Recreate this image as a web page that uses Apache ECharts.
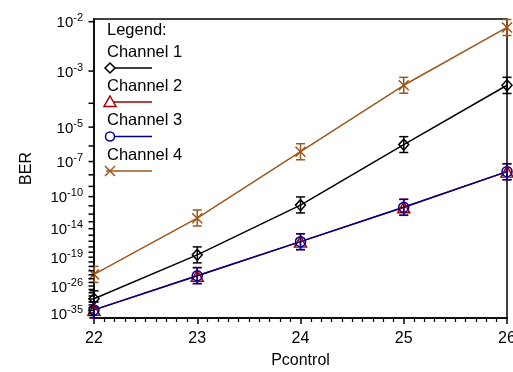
<!DOCTYPE html>
<html>
<head>
<meta charset="utf-8">
<script src="https://cdn.jsdelivr.net/npm/echarts@6/dist/echarts.min.js"></script>
<style>html,body{margin:0;padding:0;background:#fff}#c{width:513px;height:372px}</style>
</head>
<body>
<div id="c"></div>
<script>
// ---- data (BER) ----
const pcontrol = [22, 23, 24, 25, 26];
const ch1BER = [1.2e-30, 3e-19, 1.2e-11, 1.2e-6, 4.0e-4];
const ch1Hi  = [3.9e-28, 1.0e-17, 9.3e-11, 3.3e-6, 6.8e-4];
const ch1Lo  = [2.0e-33, 6.3e-21, 1.4e-12, 4.0e-7, 2.2e-4];
const ch2BER = [1.5e-34, 6e-24, 8.5e-17, 6.7e-12, 1.8e-8];
const ch2Hi  = [1.1e-31, 5.4e-22, 1.7e-15, 5.2e-11, 7.0e-8];
const ch2Lo  = [1.2e-37, 4.8e-26, 3.1e-18, 7.1e-13, 3.9e-9];
const ch3BER = [1.5e-34, 6e-24, 8.5e-17, 6.7e-12, 1.8e-8];
const ch3Hi  = [1.1e-31, 5.4e-22, 1.7e-15, 5.2e-11, 7.0e-8];
const ch3Lo  = [1.2e-37, 4.8e-26, 3.1e-18, 7.1e-13, 3.9e-9];
const ch4BER = [1.3e-23, 3e-13, 4.5e-7, 4.0e-4, 8.1e-3];
const ch4Hi  = [1.05e-21, 3.2e-12, 1.35e-6, 6.8e-4, 1.08e-2];
const ch4Lo  = [1.05e-25, 2.5e-14, 1.33e-7, 2.24e-4, 5.9e-3];
const yLabelExponents = [-2, -3, -5, -7, -10, -14, -19, -26, -35];
const yTickExponentRange = [-2, -36];
const yAxisTopBER = 1.1e-2, yAxisBottomBER = 1e-37;
const colors = {c1: '#000000', c2: '#A00000', c3: '#000090', c4: '#A0561A'};

// ---- BER probability scale: position = log10(Q), BER = 0.5*erfc(Q/sqrt2) ----
function lnErfc(x) {
  const z = Math.abs(x), t = 1 / (1 + 0.5 * z);
  const p = -z * z - 1.26551223 + t * (1.00002368 + t * (0.37409196 + t * (0.09678418 + t * (-0.18628806 + t * (0.27886807 + t * (-1.13520398 + t * (1.48851587 + t * (-0.82215223 + t * 0.17087277))))))));
  return Math.log(t) + p;
}
function lnBER(q) { return Math.log(0.5) + lnErfc(q / Math.SQRT2); }
function invQ(ber) {
  const target = Math.log(ber);
  let lo = 0, hi = 50;
  for (let i = 0; i < 100; i++) { const m = (lo + hi) / 2; if (lnBER(m) > target) lo = m; else hi = m; }
  return (lo + hi) / 2;
}
function tv(ber) { return Math.log10(invQ(ber)); }

const labelVals = yLabelExponents.map(e => tv(Math.pow(10, e)));
const tickVals = [];
for (let e = yTickExponentRange[0]; e >= yTickExponentRange[1]; e--) tickVals.push(tv(Math.pow(10, e)));

function lineData(b) { return pcontrol.map((x, i) => [x, tv(b[i])]); }
function errData(hi, lo) { return pcontrol.map((x, i) => [x, tv(hi[i]), tv(lo[i])]); }

function errSeries(name, hi, lo, color) {
  return {
    name: name, type: 'custom', clip: false, data: errData(hi, lo),
    renderItem: function (params, api) {
      const x = api.value(0);
      const p1 = api.coord([x, api.value(1)]);
      const p2 = api.coord([x, api.value(2)]);
      const w = 4.5, st = {stroke: color, lineWidth: 1.5};
      return {type: 'group', children: [
        {type: 'line', shape: {x1: p1[0], y1: p1[1], x2: p2[0], y2: p2[1]}, style: st},
        {type: 'line', shape: {x1: p1[0] - w, y1: p1[1], x2: p1[0] + w, y2: p1[1]}, style: st},
        {type: 'line', shape: {x1: p2[0] - w, y1: p2[1], x2: p2[0] + w, y2: p2[1]}, style: st}
      ]};
    }
  };
}
function lineSeries(name, b, color, symbol, size, fill) {
  return {
    name: name, type: 'line', data: lineData(b), symbol: symbol, symbolSize: size,
    showAllSymbol: true, clip: false,
    lineStyle: {color: color, width: 1.5},
    itemStyle: {color: fill, borderColor: color, borderWidth: 1.5}
  };
}

const FONT = 'Liberation Sans, Arial, sans-serif';
const chart = echarts.init(document.getElementById('c'));

const legendItems = [
  {name: 'Channel 1', color: colors.c1, ty: 53, ly: 68},
  {name: 'Channel 2', color: colors.c2, ty: 87, ly: 102},
  {name: 'Channel 3', color: colors.c3, ty: 121, ly: 136.5},
  {name: 'Channel 4', color: colors.c4, ty: 156, ly: 171}
];
const graphics = [{type: 'text', left: 107, top: 22, style: {text: 'Legend:', font: '16.5px ' + FONT, fill: '#000'}}];
legendItems.forEach((it, i) => {
  graphics.push({type: 'text', left: 107, top: it.ty - 9, style: {text: it.name, font: '16.5px ' + FONT, fill: '#000'}});
  graphics.push({type: 'line', shape: {x1: 106, y1: it.ly, x2: 152, y2: it.ly}, style: {stroke: it.color, lineWidth: 1.5}});
  const cx = 110, cy = it.ly;
  let shp;
  if (i === 0) shp = {type: 'polygon', shape: {points: [[cx, cy - 5], [cx + 5, cy], [cx, cy + 5], [cx - 5, cy]]}, style: {fill: '#fff', stroke: it.color, lineWidth: 1.5}};
  else if (i === 1) shp = {type: 'polygon', shape: {points: [[cx, cy - 6], [cx + 6, cy + 4.5], [cx - 6, cy + 4.5]]}, style: {fill: '#fff', stroke: it.color, lineWidth: 1.5}};
  else if (i === 2) shp = {type: 'circle', shape: {cx: cx, cy: cy, r: 4.5}, style: {fill: '#fff', stroke: it.color, lineWidth: 1.5}};
  else shp = {type: 'group', children: [
    {type: 'line', shape: {x1: cx - 5, y1: cy - 5, x2: cx + 5, y2: cy + 5}, style: {stroke: it.color, lineWidth: 1.5}},
    {type: 'line', shape: {x1: cx - 5, y1: cy + 5, x2: cx + 5, y2: cy - 5}, style: {stroke: it.color, lineWidth: 1.5}}
  ]};
  graphics.push(shp);
});

chart.setOption({
  animation: false,
  backgroundColor: '#fff',
  textStyle: {fontFamily: FONT},
  grid: {left: 94, right: 6, top: 19, bottom: 54, outerBoundsMode: 'none', containLabel: false,
         show: true, borderColor: '#000', borderWidth: 1.5, backgroundColor: 'transparent'},
  xAxis: {
    type: 'value', min: 22, max: 26, interval: 1,
    name: 'Pcontrol', nameLocation: 'middle', nameGap: 35,
    nameTextStyle: {fontSize: 16, color: '#000', fontFamily: FONT},
    axisLine: {lineStyle: {color: '#000', width: 1.5}},
    axisTick: {inside: false, length: 6, lineStyle: {color: '#000', width: 1.5}},
    minorTick: {show: true, splitNumber: 10, length: 4, lineStyle: {color: '#000', width: 1.2}},
    axisLabel: {fontSize: 16, color: '#000', margin: 13, fontFamily: FONT},
    splitLine: {show: false}
  },
  yAxis: {
    type: 'value', inverse: true, min: tv(yAxisTopBER), max: tv(yAxisBottomBER),
    name: 'BER', nameLocation: 'middle', nameGap: 59, nameRotate: 90,
    nameTextStyle: {fontSize: 16, color: '#000', fontFamily: FONT},
    axisLine: {show: true, lineStyle: {color: '#000', width: 1.5}},
    axisTick: {show: false},
    axisLabel: {
      customValues: labelVals, margin: 11, color: '#000',
      formatter: function (v) {
        let bi = 0, bd = Infinity;
        labelVals.forEach((lv, i) => { const d = Math.abs(lv - v); if (d < bd) { bd = d; bi = i; } });
        return '{b|10}{s|' + yLabelExponents[bi] + '}';
      },
      rich: {
        b: {fontSize: 15, fontFamily: FONT, color: '#000', verticalAlign: 'bottom'},
        s: {fontSize: 11, fontFamily: FONT, color: '#000', verticalAlign: 'top', padding: [0, 0, 7, 0]}
      }
    },
    splitLine: {show: false}
  },
  graphic: graphics,
  series: [
    errSeries('e4', ch4Hi, ch4Lo, colors.c4),
    lineSeries('Channel 4', ch4BER, colors.c4, 'path://M0,0L10,10M10,0L0,10', 10, 'none'),
    errSeries('e1', ch1Hi, ch1Lo, colors.c1),
    lineSeries('Channel 1', ch1BER, colors.c1, 'diamond', [10, 11], 'rgba(255,255,255,0)'),
    errSeries('e2', ch2Hi, ch2Lo, colors.c2),
    lineSeries('Channel 2', ch2BER, colors.c2, 'triangle', [12, 11], 'rgba(255,255,255,0)'),
    errSeries('e3', ch3Hi, ch3Lo, colors.c3),
    lineSeries('Channel 3', ch3BER, colors.c3, 'circle', 10, 'rgba(255,255,255,0)')
  ]
});

// y-axis ticks at every decade of BER, positioned through the chart's y scale
const tickGraphics = tickVals.map(v => {
  const p = chart.convertToPixel({gridIndex: 0}, [22, v]);
  return {type: 'line', shape: {x1: p[0] - 5.5, y1: p[1], x2: p[0], y2: p[1]}, style: {stroke: '#000', lineWidth: 1.5}, z: 100};
});
chart.setOption({graphic: graphics.concat(tickGraphics)});
</script>
</body>
</html>
